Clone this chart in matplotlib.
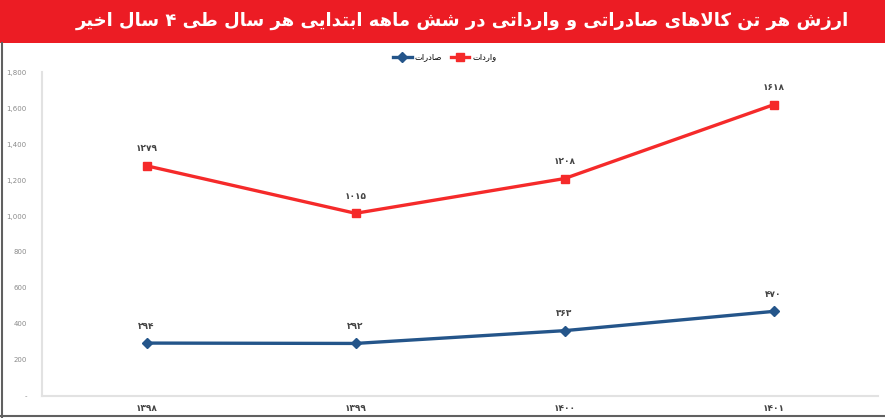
import matplotlib
matplotlib.use("Agg")
import matplotlib.pyplot as plt
from matplotlib.lines import Line2D
from matplotlib.patches import Rectangle
from matplotlib.ticker import FuncFormatter

# ---------------- data ----------------
years = ["1398", "1399", "1400", "1401"]
imports_vals = [1279, 1015, 1208, 1618]   # واردات
exports_vals = [294, 292, 363, 470]       # صادرات
y_ticks = [0, 200, 400, 600, 800, 1000, 1200, 1400, 1600, 1800]
title_txt = "ارزش هر تن کالاهای صادراتی و وارداتی در شش ماهه ابتدایی هر سال طی ۴ سال اخیر"
name_imports = "واردات"
name_exports = "صادرات"

# ---------------- minimal Persian shaping ----------------
FORMS = {
    'ا': ('\uFE8D', '\uFE8E', None, None),
    'آ': ('\uFE81', '\uFE82', None, None),
    'ب': ('\uFE8F', '\uFE90', '\uFE91', '\uFE92'),
    'پ': ('\uFB56', '\uFB57', '\uFB58', '\uFB59'),
    'ت': ('\uFE95', '\uFE96', '\uFE97', '\uFE98'),
    'ث': ('\uFE99', '\uFE9A', '\uFE9B', '\uFE9C'),
    'ج': ('\uFE9D', '\uFE9E', '\uFE9F', '\uFEA0'),
    'چ': ('\uFB7A', '\uFB7B', '\uFB7C', '\uFB7D'),
    'ح': ('\uFEA1', '\uFEA2', '\uFEA3', '\uFEA4'),
    'خ': ('\uFEA5', '\uFEA6', '\uFEA7', '\uFEA8'),
    'د': ('\uFEA9', '\uFEAA', None, None),
    'ذ': ('\uFEAB', '\uFEAC', None, None),
    'ر': ('\uFEAD', '\uFEAE', None, None),
    'ز': ('\uFEAF', '\uFEB0', None, None),
    'ژ': ('\uFB8A', '\uFB8B', None, None),
    'س': ('\uFEB1', '\uFEB2', '\uFEB3', '\uFEB4'),
    'ش': ('\uFEB5', '\uFEB6', '\uFEB7', '\uFEB8'),
    'ص': ('\uFEB9', '\uFEBA', '\uFEBB', '\uFEBC'),
    'ض': ('\uFEBD', '\uFEBE', '\uFEBF', '\uFEC0'),
    'ط': ('\uFEC1', '\uFEC2', '\uFEC3', '\uFEC4'),
    'ظ': ('\uFEC5', '\uFEC6', '\uFEC7', '\uFEC8'),
    'ع': ('\uFEC9', '\uFECA', '\uFECB', '\uFECC'),
    'غ': ('\uFECD', '\uFECE', '\uFECF', '\uFED0'),
    'ف': ('\uFED1', '\uFED2', '\uFED3', '\uFED4'),
    'ق': ('\uFED5', '\uFED6', '\uFED7', '\uFED8'),
    'ک': ('\uFB8E', '\uFB8F', '\uFB90', '\uFB91'),
    'گ': ('\uFB92', '\uFB93', '\uFB94', '\uFB95'),
    'ل': ('\uFEDD', '\uFEDE', '\uFEDF', '\uFEE0'),
    'م': ('\uFEE1', '\uFEE2', '\uFEE3', '\uFEE4'),
    'ن': ('\uFEE5', '\uFEE6', '\uFEE7', '\uFEE8'),
    'ه': ('\uFEE9', '\uFEEA', '\uFEEB', '\uFEEC'),
    'و': ('\uFEED', '\uFEEE', None, None),
    'ی': ('\uFBFC', '\uFBFD', '\uFBFE', '\uFBFF'),
}


def _joins_next(ch):
    return ch in FORMS and FORMS[ch][2] is not None


def shape(text):
    out = []
    chars = list(text)
    i = 0
    n = len(chars)
    while i < n:
        c = chars[i]
        prev = chars[i - 1] if i > 0 else None
        joined_prev = prev is not None and _joins_next(prev)
        if c == 'ل' and i + 1 < n and chars[i + 1] == 'ا':
            out.append('\uFEFC' if joined_prev else '\uFEFB')
            i += 2
            continue
        if c in FORMS:
            iso, fin, ini, med = FORMS[c]
            nxt = chars[i + 1] if i + 1 < n else None
            joins_after = ini is not None and nxt is not None and nxt in FORMS
            if joined_prev and joins_after:
                out.append(med)
            elif joined_prev:
                out.append(fin)
            elif joins_after:
                out.append(ini)
            else:
                out.append(iso)
        else:
            out.append(c)
        i += 1
    return ''.join(out)[::-1]


FA_DIGITS = str.maketrans("0123456789", "۰۱۲۳۴۵۶۷۸۹")


def fa(num):
    return str(num).translate(FA_DIGITS)


plt.rcParams['font.family'] = ['DejaVu Sans']

W, H = 885, 418
fig = plt.figure(figsize=(W / 100, H / 100), dpi=100)
fig.patch.set_facecolor('white')

# title banner
fig.patches.append(Rectangle((0, (H - 43) / H), 1, 43 / H, transform=fig.transFigure,
                             facecolor='#EC1C24', edgecolor='none', zorder=0))
fig.text(462 / W, (H - 21) / H, shape(title_txt), color='white', fontsize=13,
         fontweight='bold', ha='center', va='center')

# outer frame lines (left and bottom)
fig.add_artist(Line2D([1.5 / W, 1.5 / W], [0, (H - 43) / H], transform=fig.transFigure,
                      color='#606060', lw=1.5))
fig.add_artist(Line2D([0, 1], [2 / H, 2 / H], transform=fig.transFigure,
                      color='#606060', lw=1.5))

ax = fig.add_axes([42 / W, 22 / H, (878 - 42) / W, 324 / H])
x = list(range(len(years)))
ax.plot(x, imports_vals, color='#F52A2A', lw=2.4, marker='s', markersize=6,
        label=shape(name_imports), zorder=3)
ax.plot(x, exports_vals, color='#24558A', lw=2.4, marker='D', markersize=5,
        label=shape(name_exports), zorder=3)

for xi, v in zip(x, imports_vals):
    ax.annotate(fa(v), (xi, v), xytext=(0, 9), textcoords='offset points',
                ha='center', va='bottom', fontsize=6.5, color='#444444', fontweight='bold')
for xi, v in zip(x, exports_vals):
    ax.annotate(fa(v), (xi, v), xytext=(0, 9), textcoords='offset points',
                ha='center', va='bottom', fontsize=6.5, color='#444444', fontweight='bold')

ax.set_xlim(-0.5, 3.5)
ax.set_ylim(0, 1800)
ax.set_yticks(y_ticks)
ax.yaxis.set_major_formatter(FuncFormatter(lambda v, p: '-' if v == 0 else f"{int(v):,}"))
ax.set_xticks(x)
ax.set_xticklabels([fa(y) for y in years])
ax.tick_params(axis='y', length=0, pad=11, labelsize=5, labelcolor='#8a8a8a')
ax.tick_params(axis='x', length=0, pad=6, labelsize=6.5, labelcolor='#444444')
for lab in ax.get_xticklabels():
    lab.set_fontweight('bold')

for s in ['top', 'right']:
    ax.spines[s].set_visible(False)
for s in ['left', 'bottom']:
    ax.spines[s].set_color('#e2e2e2')
    ax.spines[s].set_linewidth(1.5)

handles, labels = ax.get_legend_handles_labels()
leg = fig.legend(handles[::-1], labels[::-1], loc='center', bbox_to_anchor=(445 / W, (H - 57) / H),
                 ncol=2, frameon=False, fontsize=6, handlelength=2.2, columnspacing=1.0,
                 handletextpad=0.4)

fig.savefig('out.png', dpi=100)
